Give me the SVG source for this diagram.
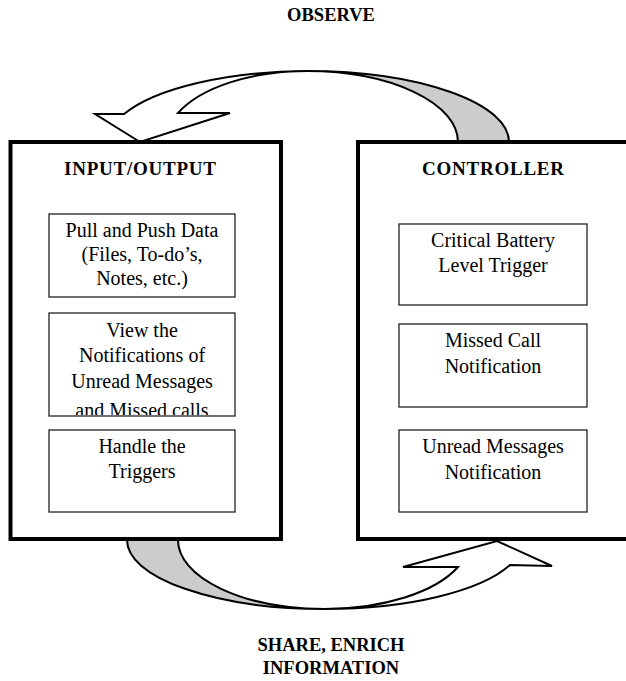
<svg xmlns="http://www.w3.org/2000/svg" width="626" height="681" viewBox="0 0 626 681">
<style>
.lbl{font-family:"Liberation Serif","Times New Roman",serif;font-size:20px;fill:#000;text-anchor:middle}
.hdr{font-family:"Liberation Serif","Times New Roman",serif;font-size:19px;font-weight:bold;fill:#000;text-anchor:middle}
.cap{font-family:"Liberation Serif","Times New Roman",serif;font-size:18.5px;font-weight:bold;fill:#000;text-anchor:middle}
.outer{fill:#fff;stroke:#000;stroke-width:4}
.inner{fill:#fff;stroke:#222;stroke-width:1.3}
.back{fill:#cccccc;stroke:#000;stroke-width:2;stroke-linejoin:round}
.front{fill:#fff;stroke:#000;stroke-width:2;stroke-linejoin:miter}
</style>
<defs>
<clipPath id="clipView"><rect x="49" y="313" width="186" height="102"/></clipPath>
</defs>
<rect width="626" height="681" fill="#fff"/>
<g id="connectors">
<g id="observe-arrow">
<path class="back" d="M 509,142 A 202 71 0 0 0 307,71 A 151 71 0 0 1 458,142 Z"/>
<path class="front" d="M 178,113 A 141 71 0 0 1 307,71 A 202 71 0 0 0 124,114 L 95,114 L 140,142 L 230,113 Z"/>
</g>
<g id="share-arrow">
<path class="back" d="M 127,540 A 198 69 0 0 0 325,609 A 147 69 0 0 1 178,540 Z"/>
<path class="front" d="M 325,609 A 198 69 0 0 0 510,565 L 552,566 L 497,541 L 403,567 L 458,567 A 145 69 0 0 1 325,609 Z"/>
</g>
</g>
<g id="input-output">
<rect class="outer" x="10.5" y="142" width="270.5" height="397"/>
<text class="hdr" x="140" y="175" textLength="152" lengthAdjust="spacing">INPUT/OUTPUT</text>
</g>
<g id="pull-push">
<rect class="inner" x="49" y="214" width="186" height="83"/>
<text class="lbl" x="142" y="237">Pull and Push Data</text>
<text class="lbl" x="142" y="261">(Files, To-do’s,</text>
<text class="lbl" x="142" y="285">Notes, etc.)</text>
</g>
<g id="view-notifications">
<rect class="inner" x="49" y="313" width="186" height="103"/>
<g clip-path="url(#clipView)">
<text class="lbl" x="142" y="337">View the</text>
<text class="lbl" x="142" y="362">Notifications of</text>
<text class="lbl" x="142" y="388">Unread Messages</text>
<text class="lbl" x="142" y="417">and Missed calls</text>
</g>
</g>
<g id="handle-triggers">
<rect class="inner" x="49" y="430" width="186" height="82"/>
<text class="lbl" x="142" y="453">Handle the</text>
<text class="lbl" x="142" y="478">Triggers</text>
</g>
<g id="controller">
<rect class="outer" x="358" y="142" width="270" height="397"/>
<text class="hdr" x="493" y="175" textLength="142" lengthAdjust="spacing">CONTROLLER</text>
</g>
<g id="battery-trigger">
<rect class="inner" x="399" y="224" width="188" height="81"/>
<text class="lbl" x="493" y="247">Critical Battery</text>
<text class="lbl" x="493" y="272">Level Trigger</text>
</g>
<g id="missed-call">
<rect class="inner" x="399" y="324" width="188" height="83"/>
<text class="lbl" x="493" y="347">Missed Call</text>
<text class="lbl" x="493" y="373">Notification</text>
</g>
<g id="unread-messages">
<rect class="inner" x="399" y="430" width="188" height="82"/>
<text class="lbl" x="493" y="453">Unread Messages</text>
<text class="lbl" x="493" y="479">Notification</text>
</g>
<g id="labels">
<text class="cap" x="331" y="21">OBSERVE</text>
<text class="cap" x="331" y="651">SHARE, ENRICH</text>
<text class="cap" x="331" y="674">INFORMATION</text>
</g>
</svg>
